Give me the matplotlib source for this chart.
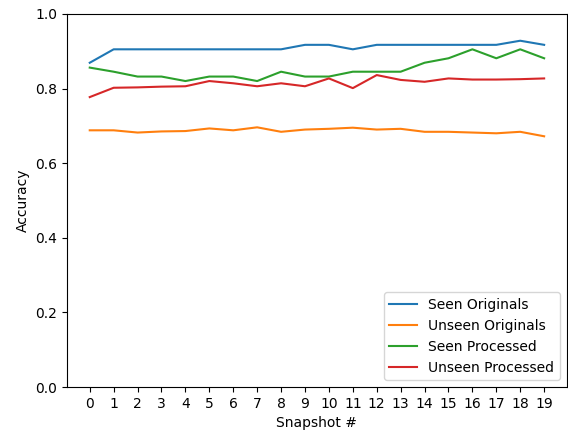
import matplotlib
matplotlib.use("Agg")
import matplotlib.pyplot as plt

snapshots = list(range(20))
seen_originals = [0.869, 0.905, 0.905, 0.905, 0.905, 0.905, 0.905, 0.905, 0.905, 0.917,
                  0.917, 0.905, 0.917, 0.917, 0.917, 0.917, 0.917, 0.917, 0.928, 0.917]
unseen_originals = [0.688, 0.688, 0.682, 0.685, 0.686, 0.693, 0.688, 0.696, 0.684, 0.690,
                    0.692, 0.695, 0.690, 0.692, 0.684, 0.684, 0.682, 0.680, 0.684, 0.672]
seen_processed = [0.856, 0.845, 0.832, 0.832, 0.820, 0.832, 0.832, 0.820, 0.845, 0.832,
                  0.832, 0.845, 0.845, 0.845, 0.869, 0.881, 0.905, 0.881, 0.905, 0.881]
unseen_processed = [0.777, 0.802, 0.803, 0.805, 0.806, 0.820, 0.814, 0.806, 0.814, 0.806,
                    0.827, 0.801, 0.836, 0.823, 0.818, 0.827, 0.824, 0.824, 0.825, 0.827]

fig = plt.figure(figsize=(5.68, 4.33), dpi=100)
ax = fig.add_axes([0.118, 0.106, 0.880, 0.862])
ax.plot(snapshots, seen_originals, label="Seen Originals")
ax.plot(snapshots, unseen_originals, label="Unseen Originals")
ax.plot(snapshots, seen_processed, label="Seen Processed")
ax.plot(snapshots, unseen_processed, label="Unseen Processed")
ax.set_ylim(0, 1.0)
ax.set_xticks(snapshots)
ax.set_xlabel("Snapshot #")
ax.set_ylabel("Accuracy")
ax.legend(loc="lower right")
fig.savefig("out.png", dpi=100)
